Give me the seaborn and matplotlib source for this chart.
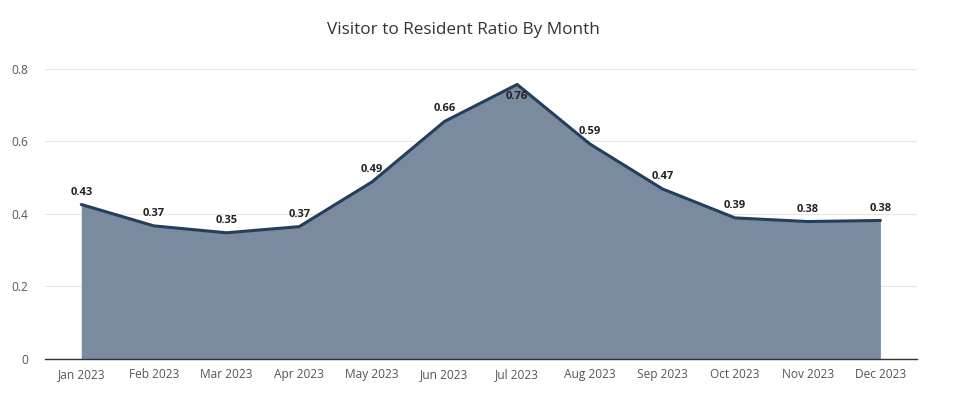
import matplotlib
matplotlib.use('Agg')
import matplotlib.pyplot as plt
import seaborn as sns
import pandas as pd
import numpy as np

months = ['Jan 2023', 'Feb 2023', 'Mar 2023', 'Apr 2023', 'May 2023', 'Jun 2023',
          'Jul 2023', 'Aug 2023', 'Sep 2023', 'Oct 2023', 'Nov 2023', 'Dec 2023']
ratio = [0.426, 0.367, 0.348, 0.365, 0.488, 0.655, 0.757, 0.593, 0.469, 0.389, 0.379, 0.382]
labels = ['0.43', '0.37', '0.35', '0.37', '0.49', '0.66', '0.76', '0.59', '0.47', '0.39', '0.38', '0.38']

sns.set_style('white')
plt.rcParams['font.family'] = ['Open Sans', 'DejaVu Sans']

df = pd.DataFrame({'month': months, 'ratio': ratio})
df['x'] = np.arange(len(df))

fig = plt.figure(figsize=(9.67, 3.98), dpi=100)
ax = fig.add_axes([0.0465, 0.098, 0.9015, 0.729])

ax.fill_between(df['x'], df['ratio'], 0, color='#7a8a9f', linewidth=0, zorder=2)
sns.lineplot(data=df, x='x', y='ratio', color='#243f5e', linewidth=2.2, ax=ax, zorder=3)

for i, (v, t) in enumerate(zip(ratio, labels)):
    if i == 6:
        ax.annotate(t, (i, v), xytext=(0, -5), textcoords='offset points', ha='center', va='top',
                    fontsize=8, fontweight='bold', color='#222222', zorder=4)
    else:
        ax.annotate(t, (i, v), xytext=(0, 5), textcoords='offset points', ha='center', va='bottom',
                    fontsize=8, fontweight='bold', color='#222222', zorder=4)

ax.set_xlim(-0.5, 11.5)
ax.set_ylim(0, 0.8)
ax.set_yticks([0, 0.2, 0.4, 0.6, 0.8])
ax.set_yticklabels(['0', '0.2', '0.4', '0.6', '0.8'])
ax.set_xticks(df['x'])
ax.set_xticklabels(months)
ax.tick_params(axis='both', length=0, labelsize=8.6, colors='#555555')
ax.tick_params(axis='y', pad=12)
ax.tick_params(axis='x', pad=6.5)
ax.yaxis.grid(True, color='#e6e6e6', linewidth=0.8, zorder=0)
ax.set_axisbelow(True)
for s in ['top', 'right', 'left']:
    ax.spines[s].set_visible(False)
ax.spines['bottom'].set_color('#333333')
ax.spines['bottom'].set_linewidth(1)
ax.spines['bottom'].set_zorder(5)
ax.set_xlabel('')
ax.set_ylabel('')

fig.text(0.479, 0.924, 'Visitor to Resident Ratio By Month', ha='center', va='center',
         fontsize=12.3, color='#333333')

fig.savefig('out.png', dpi=100)
